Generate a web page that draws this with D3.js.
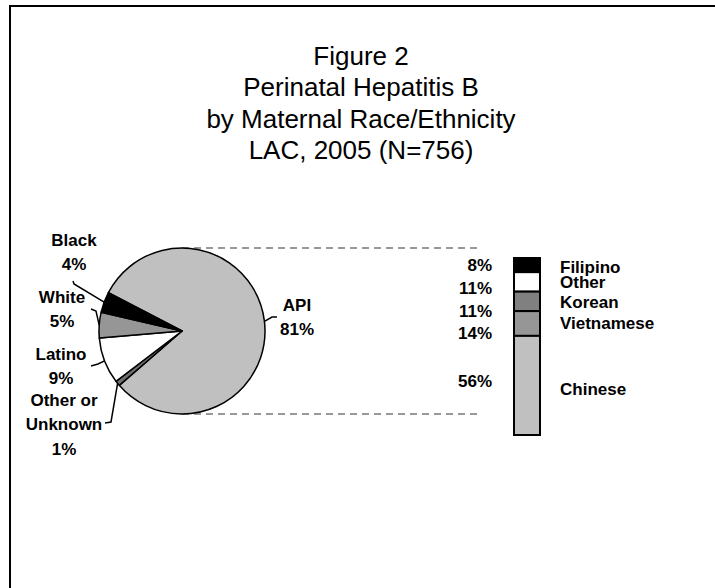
<!DOCTYPE html>
<html>
<head>
<meta charset="utf-8">
<script src="https://cdn.jsdelivr.net/npm/d3@7"></script>
<style>
  html, body { margin: 0; padding: 0; background: #fff; }
  svg { display: block; }
  text { font-family: "Liberation Sans", Arial, sans-serif; }
</style>
</head>
<body>
<svg id="chart" width="715" height="588"></svg>
<script>
// ---------------- DATA ----------------
const titleLines = ["Figure 2", "Perinatal Hepatitis B", "by Maternal Race/Ethnicity", "LAC, 2005 (N=756)"];

const pieCategories = ["API", "Other or Unknown", "Latino", "White", "Black"];
const pieValues     = [81, 1, 9, 5, 4];
const pieLabelNames = [["API"], ["Other or", "Unknown"], ["Latino"], ["White"], ["Black"]];

const barCategories = ["Filipino", "Other", "Korean", "Vietnamese", "Chinese"];
const barValues     = [8, 11, 11, 14, 56];

// ---------------- STYLE / LAYOUT ----------------
const pieColors = ["#c0c0c0", "#707070", "#ffffff", "#969696", "#000000"];
const barColors = ["#000000", "#ffffff", "#808080", "#969696", "#c0c0c0"];

const W = 715, H = 588;
const cx = 182, cy = 331, R = 83;
const pieStartDeg = -62.5;         // rotation of the pie (d3 angle of API start)
const barX = 514, barW = 26, barTop = 258, barBottom = 435;
const pctRightX = 492, nameLeftX = 560;
const pctDy  = [0.5, 7, 10.3, 10.5, -3.5];
const nameDy = [2, 1, 1.5, 0.5, 4.5];
const dashEndX = 477;

// label layout for pie: centre x, first-line y, elbow points of leader (label side)
const pieLabelLayout = [
  { x: 297, y: 305, leader: [[277, 317], [272, 317]] },          // API
  { x: 64,  y: 400, leader: [[105, 423], [111, 422]] },          // Other or Unknown
  { x: 61,  y: 354, leader: [[91, 366], [98, 364]] },            // Latino
  { x: 62,  y: 297, leader: [[91, 309], [96, 311]] },            // White
  { x: 74,  y: 240, leader: [[73, 281], [74, 284]] }             // Black
];
const lineGap = 24.5;
const labelFont = 17;

const svg = d3.select("#chart");
svg.append("rect").attr("width", W).attr("height", H).attr("fill", "#fff");

// frame
svg.append("rect")
  .attr("x", 10).attr("y", 6).attr("width", 900).attr("height", 800)
  .attr("fill", "none").attr("stroke", "#000").attr("stroke-width", 2);

// title
svg.append("g").selectAll("text").data(titleLines).join("text")
  .attr("x", 361)
  .attr("y", (d, i) => 64.5 + i * 31.5)
  .attr("text-anchor", "middle")
  .attr("font-size", 26)
  .attr("fill", "#000")
  .text(d => d);

// ---------------- PIE ----------------
const toRad = d => d * Math.PI / 180;
const pie = d3.pie().sort(null).value(d => d)
  .startAngle(toRad(pieStartDeg))
  .endAngle(toRad(pieStartDeg) + 2 * Math.PI);
const arcs = pie(pieValues);
const arc = d3.arc().innerRadius(0).outerRadius(R);

// dashed connectors (from pie top/bottom to bar)
const yBar = d3.scaleLinear().domain([0, d3.sum(barValues)]).range([barTop, barBottom]);
const conn = svg.append("g");
[[cy - R], [cy + R]].forEach(([yy]) => {
  conn.append("line")
    .attr("x1", cx).attr("x2", dashEndX)
    .attr("y1", yy).attr("y2", yy)
    .attr("stroke", "#999").attr("stroke-width", 2)
    .attr("stroke-dasharray", "7,5");
});

const pieG = svg.append("g").attr("transform", `translate(${cx},${cy})`);
pieG.selectAll("path").data(arcs).join("path")
  .attr("d", arc)
  .attr("fill", (d, i) => pieColors[i])
  .attr("stroke", "#000")
  .attr("stroke-width", 1.5)
  .attr("stroke-linejoin", "round");

// leader lines + labels
const lab = svg.append("g");
arcs.forEach((a, i) => {
  const mid = (a.startAngle + a.endAngle) / 2;
  const ex = cx + R * Math.sin(mid), ey = cy - R * Math.cos(mid);
  const L = pieLabelLayout[i];
  const pts = L.leader.concat([[ex, ey]]);
  lab.append("path")
    .attr("d", d3.line()(pts))
    .attr("fill", "none").attr("stroke", "#000").attr("stroke-width", 1.5);
  const lines = pieLabelNames[i].concat([pieValues[i] + "%"]);
  lab.append("g").selectAll("text").data(lines).join("text")
    .attr("x", L.x)
    .attr("y", (d, j) => L.y + j * lineGap)
    .attr("text-anchor", "middle")
    .attr("dominant-baseline", "central")
    .attr("font-size", labelFont)
    .attr("font-weight", "bold")
    .attr("fill", "#000")
    .text(d => d);
});

// ---------------- BAR ----------------
const stack = [];
let acc = 0;
barValues.forEach((v, i) => { stack.push({ cat: barCategories[i], v, y0: acc, y1: acc + v, i }); acc += v; });

const barG = svg.append("g");
barG.selectAll("rect").data(stack).join("rect")
  .attr("x", barX).attr("width", barW)
  .attr("y", d => yBar(d.y0))
  .attr("height", d => yBar(d.y1) - yBar(d.y0))
  .attr("fill", d => barColors[d.i])
  .attr("stroke", "#000").attr("stroke-width", 2);

barG.selectAll("text.pct").data(stack).join("text")
  .attr("class", "pct")
  .attr("x", pctRightX)
  .attr("y", d => (yBar(d.y0) + yBar(d.y1)) / 2 + pctDy[d.i])
  .attr("text-anchor", "end")
  .attr("dominant-baseline", "central")
  .attr("font-size", labelFont).attr("font-weight", "bold")
  .text(d => d.v + "%");

barG.selectAll("text.name").data(stack).join("text")
  .attr("class", "name")
  .attr("x", nameLeftX)
  .attr("y", d => (yBar(d.y0) + yBar(d.y1)) / 2 + nameDy[d.i])
  .attr("text-anchor", "start")
  .attr("dominant-baseline", "central")
  .attr("font-size", labelFont).attr("font-weight", "bold")
  .text(d => d.cat);
</script>
</body>
</html>
